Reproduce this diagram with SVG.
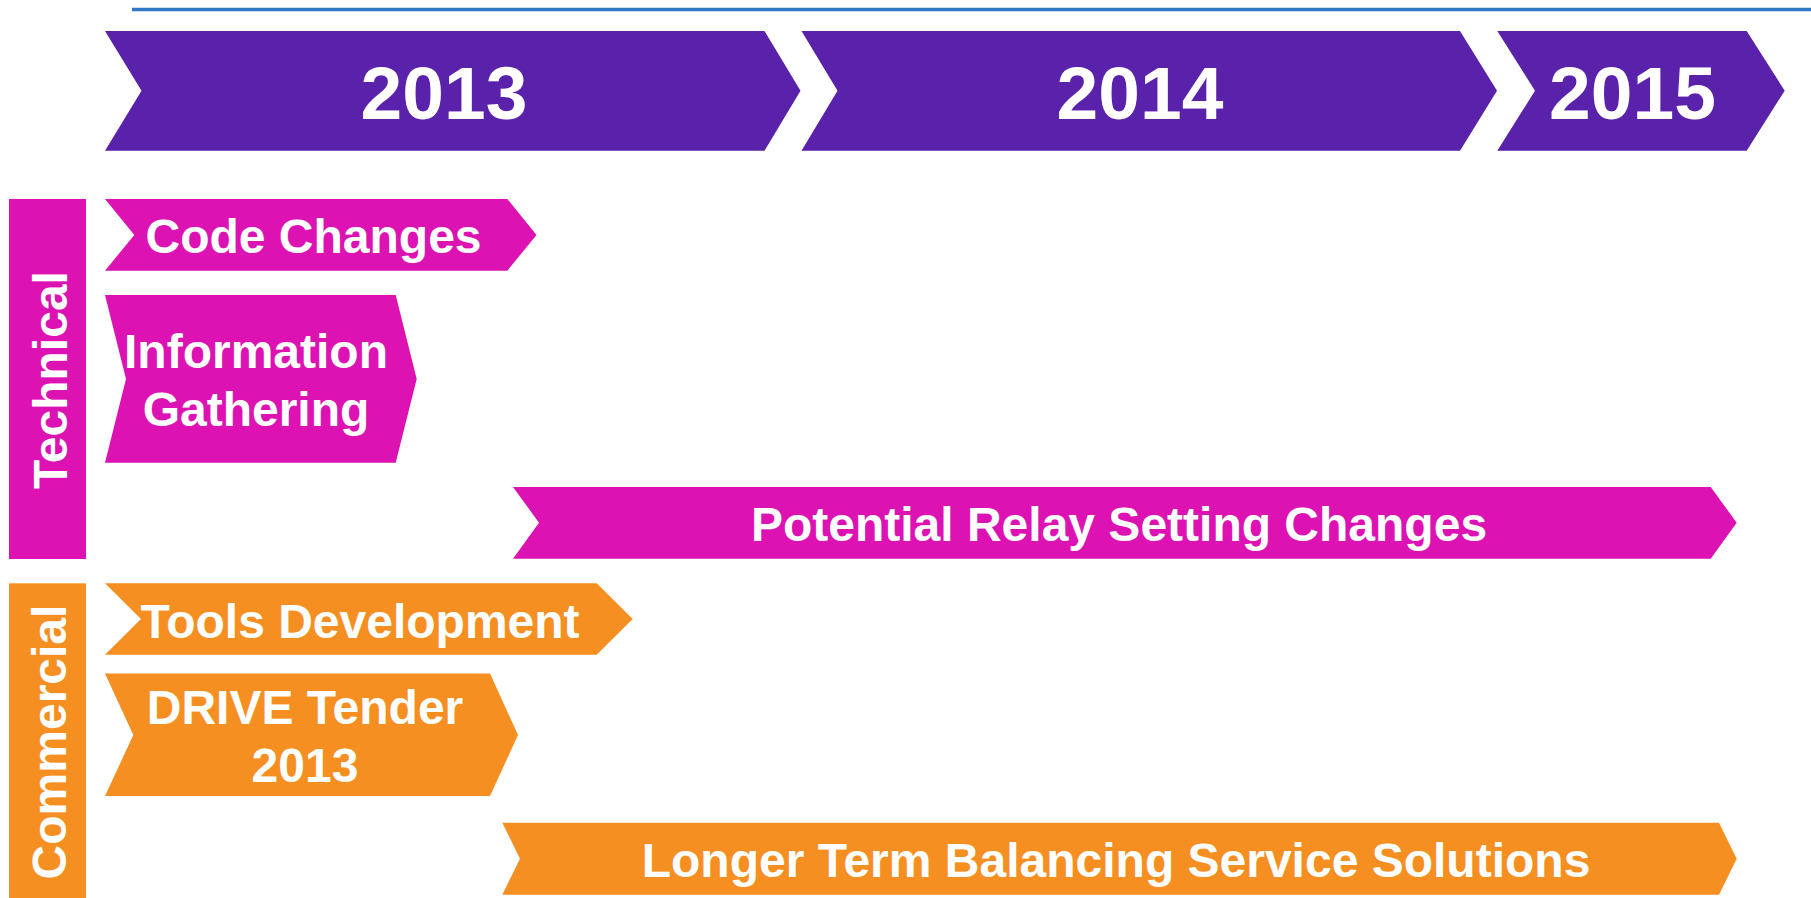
<svg xmlns="http://www.w3.org/2000/svg" width="1811" height="898" viewBox="0 0 1811 898">
  <style>
    .year { fill: #5A21AB; }
    .tech { fill: #DC12B2; }
    .comm { fill: #F68F21; }
    text { font-family: "Liberation Sans", Arial, Helvetica, sans-serif; font-weight: bold; fill: #FFFFFF; text-anchor: middle; }
    .yr { font-size: 75px; }
    .lbl { font-size: 48px; }
  </style>

  <rect width="1811" height="898" fill="#FFFFFF"/>

  <!-- header rule -->
  <line x1="132" y1="9.5" x2="1811" y2="9.5" stroke="#2F78C4" stroke-width="3.5"/>

  <!-- year chevrons -->
  <g id="year-2013">
    <polygon class="year" points="105,31 764.5,31 800.5,90.7 764.5,150.7 105,150.7 141.5,90.7"/>
    <text class="yr" x="444" y="119">2013</text>
  </g>
  <g id="year-2014">
    <polygon class="year" points="801.5,31 1460,31 1497,90.7 1460,150.7 801.5,150.7 837.5,90.7"/>
    <text class="yr" x="1140" y="119">2014</text>
  </g>
  <g id="year-2015">
    <polygon class="year" points="1497.3,31 1746.7,31 1784.7,90.7 1746.7,150.7 1497.3,150.7 1535,90.7"/>
    <text class="yr" x="1632.5" y="119">2015</text>
  </g>

  <!-- lane headers -->
  <g id="lane-technical">
    <rect class="tech" x="9" y="199" width="77" height="360"/>
    <text class="lbl" transform="translate(66.5,380) rotate(-90)" x="0" y="0">Technical</text>
  </g>
  <g id="lane-commercial">
    <rect class="comm" x="9" y="583.3" width="77" height="314.7"/>
    <text class="lbl" transform="translate(66,742) rotate(-90)" x="0" y="0">Commercial</text>
  </g>

  <!-- technical activities -->
  <g id="code-changes">
    <polygon class="tech" points="105,199 507.3,199 536.5,235 507.3,270.7 105,270.7 134.3,235"/>
    <text class="lbl" x="313.5" y="253.3">Code Changes</text>
  </g>
  <g id="information-gathering">
    <polygon class="tech" points="105,295 395.7,295 416.7,379 395.7,462.7 105,462.7 126,379"/>
    <text class="lbl" x="256" y="368.3">Information</text>
    <text class="lbl" x="256" y="426">Gathering</text>
  </g>
  <g id="relay-setting-changes">
    <polygon class="tech" points="513,487 1710.7,487 1736.7,522.7 1710.7,558.7 513,558.7 539,522.7"/>
    <text class="lbl" x="1119" y="541">Potential Relay Setting Changes</text>
  </g>

  <!-- commercial activities -->
  <g id="tools-development">
    <polygon class="comm" points="105,583.3 596.7,583.3 632.7,619 596.7,654.7 105,654.7 141,619"/>
    <text class="lbl" x="360" y="637.7">Tools Development</text>
  </g>
  <g id="drive-tender">
    <polygon class="comm" points="105,673.5 490,673.5 518,735 490,796 105,796 133.3,735"/>
    <text class="lbl" x="305" y="724">DRIVE Tender</text>
    <text class="lbl" x="305" y="782">2013</text>
  </g>
  <g id="balancing-solutions">
    <polygon class="comm" points="502.3,822.7 1719,822.7 1736.7,858.7 1719,894.7 502.3,894.7 520,858.7"/>
    <text class="lbl" x="1116" y="876.7">Longer Term Balancing Service Solutions</text>
  </g>

  <g id="connectors"/>
</svg>
